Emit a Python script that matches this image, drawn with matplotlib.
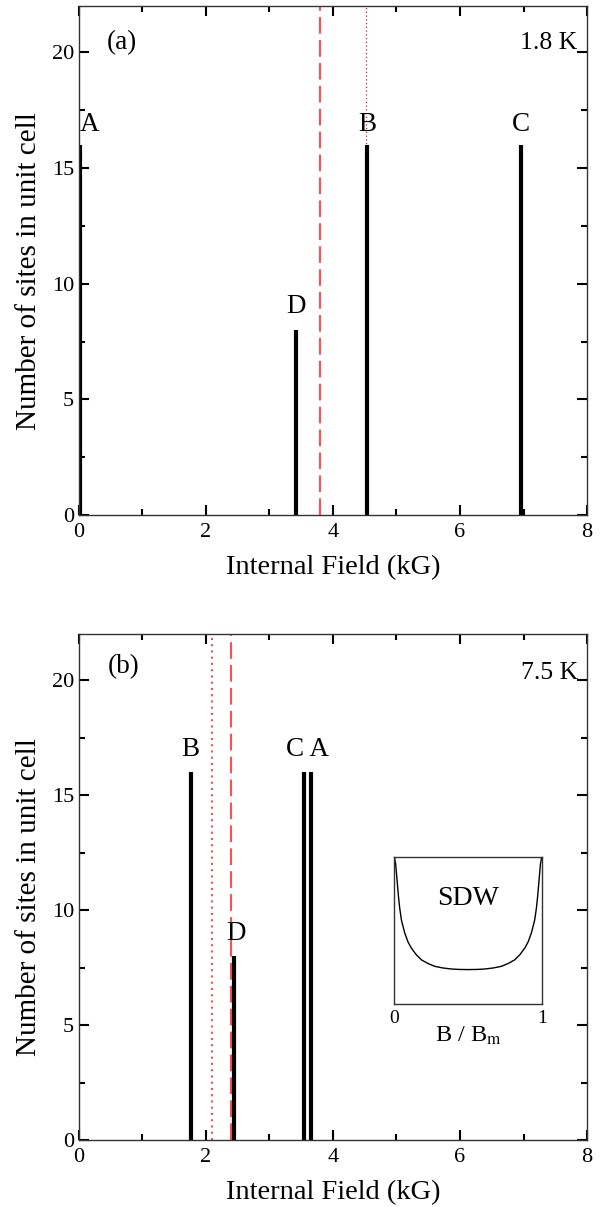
import matplotlib.pyplot as plt
from matplotlib.ticker import MultipleLocator

plt.rcParams['font.family'] = ['Liberation Serif', 'DejaVu Serif']
plt.rcParams['mathtext.fontset'] = 'stix'

# panel (a), 1.8 K
fields_a = [0.02, 3.42, 4.54, 6.96]
sites_a = [16, 8, 16, 16]
dashed_a = 3.80
dotted_a = 4.52

# panel (b), 7.5 K
fields_b = [1.76, 2.44, 3.54, 3.66]
sites_b = [16, 8, 16, 16]
dashed_b = 2.39
dotted_b = 2.09

# SDW lineshape in inset
sdw_x = [0.0, 0.004, 0.011, 0.017, 0.023, 0.03, 0.038, 0.05, 0.072, 0.095, 0.117, 0.15, 0.185, 0.23,
         0.275, 0.33, 0.387, 0.44, 0.5, 0.56, 0.613, 0.67, 0.725, 0.77, 0.815, 0.85, 0.883, 0.905,
         0.928, 0.95, 0.962, 0.97, 0.977, 0.983, 0.989, 0.996, 1.0]
sdw_y = [1.0, 0.99, 0.95, 0.88, 0.81, 0.73, 0.653, 0.57, 0.483, 0.42, 0.38, 0.335, 0.30, 0.275,
         0.256, 0.245, 0.238, 0.235, 0.234, 0.235, 0.238, 0.245, 0.256, 0.275, 0.30, 0.335, 0.38, 0.42,
         0.483, 0.57, 0.653, 0.73, 0.81, 0.88, 0.95, 0.99, 1.0]

red = '#ff5050'

fig = plt.figure(figsize=(6.1, 12.07), dpi=100)
ax1 = fig.add_axes([0.1295, 0.5733, 0.8328, 0.4217])
ax2 = fig.add_axes([0.1295, 0.0555, 0.8328, 0.419])


def style(ax):
    ax.set_xlim(0, 8)
    ax.set_ylim(0, 22)
    ax.xaxis.set_major_locator(MultipleLocator(2))
    ax.xaxis.set_minor_locator(MultipleLocator(1))
    ax.yaxis.set_major_locator(MultipleLocator(5))
    ax.yaxis.set_minor_locator(MultipleLocator(2.5))
    ax.tick_params(which='both', direction='in', top=True, right=True, width=1.5, labelsize=16)
    ax.tick_params(which='major', length=7)
    ax.tick_params(which='minor', length=4)
    ax.tick_params(axis='x', pad=6)
    for s in ax.spines.values():
        s.set_linewidth(1.0)
        s.set_color('#333333')
    ax.set_xlabel('Internal Field (kG)', fontsize=20.5, labelpad=9)
    ax.set_ylabel('Number of sites in unit cell', fontsize=21)
    ax.yaxis.set_label_coords(-0.072, 0.48)


# panel (a)
ax1.axvline(dashed_a, color=red, lw=1.5, dashes=(8, 3))
ax1.axvline(dotted_a, color='#e02020', lw=0.9, dashes=(1, 2))
ax1.vlines(fields_a, 0, sites_a, color='black', lw=3)
ax1.text(0.17, 16.9, 'A', fontsize=19.5, ha='center', va='center')
ax1.text(3.42, 9.0, 'D', fontsize=19.5, ha='center', va='center')
ax1.text(4.54, 16.9, 'B', fontsize=19.5, ha='center', va='center')
ax1.text(6.96, 16.9, 'C', fontsize=19.5, ha='center', va='center')
ax1.text(0.67, 20.4, '(a)', fontsize=19.5, ha='center', va='center')
ax1.text(7.39, 20.4, '1.8 K', fontsize=18.5, ha='center', va='center')
style(ax1)

# panel (b)
ax2.axvline(dashed_b, color=red, lw=1.5, dashes=(8, 3))
ax2.axvline(dotted_b, color=red, lw=1.5, dashes=(1, 2))
ax2.vlines(fields_b, 0, sites_b, color='black', lw=3)
ax2.text(1.76, 17.0, 'B', fontsize=19.5, ha='center', va='center')
ax2.text(3.6, 17.0, 'C A', fontsize=19.5, ha='center', va='center')
ax2.text(2.47, 9.0, 'D', fontsize=19.5, ha='center', va='center')
ax2.text(0.70, 20.6, '(b)', fontsize=19.5, ha='center', va='center')
ax2.text(7.41, 20.3, '7.5 K', fontsize=18.5, ha='center', va='center')
style(ax2)

# inset
axi = fig.add_axes([0.646, 0.1682, 0.2426, 0.1218])
axi.plot(sdw_x, sdw_y, color='black', lw=1)
axi.set_xlim(0, 1)
axi.set_ylim(0, 1)
axi.set_xticks([0, 1])
axi.set_xticklabels(['0', '1'])
axi.set_yticks([])
axi.tick_params(length=0, labelsize=14, pad=4)
for s in axi.spines.values():
    s.set_linewidth(1.0)
    s.set_color('#333333')
axi.set_xlabel(r'B / B$_\mathrm{m}$', fontsize=17.5, labelpad=-1)
axi.text(0.5, 0.72, 'SDW', fontsize=20, ha='center', va='center', transform=axi.transAxes)

fig.savefig('out.png', dpi=100)
